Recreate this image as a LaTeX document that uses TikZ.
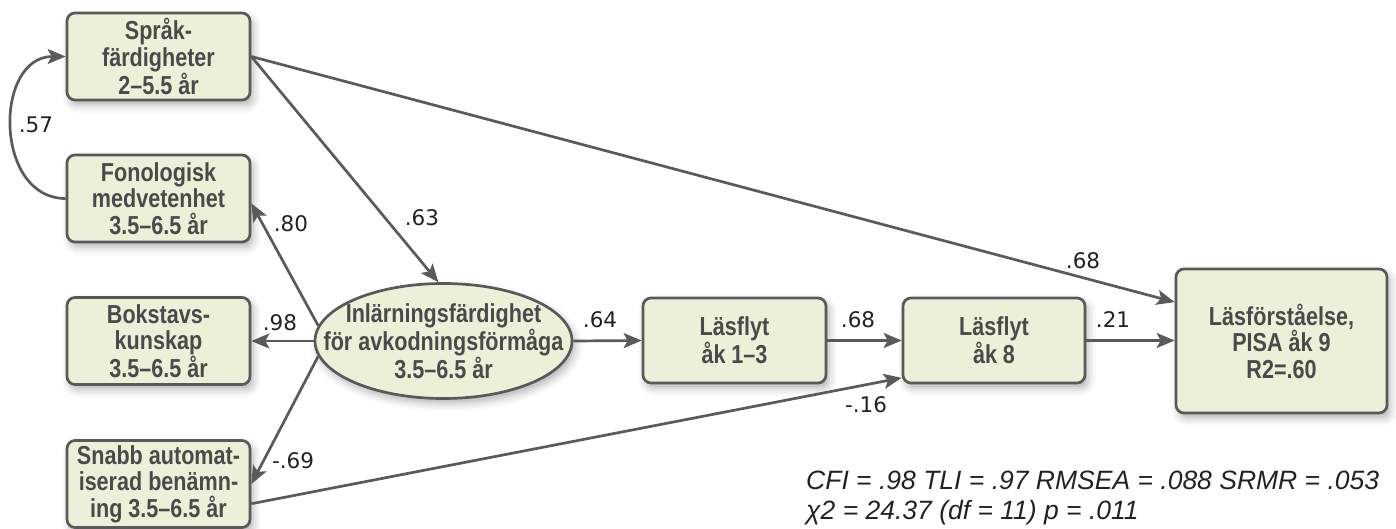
\documentclass[tikz,border=0pt]{standalone}
\usepackage{fontspec}
\setmainfont{Liberation Sans}
\newfontfamily\boxfont{Liberation Sans}[FakeStretch=0.83]
\newfontfamily\coeffont{DejaVu Sans}
\usetikzlibrary{shapes.geometric,arrows.meta,shadows.blur,calc}

\definecolor{boxfill}{HTML}{EAF1D8}
\definecolor{boxline}{HTML}{595959}
\definecolor{boxtext}{HTML}{4A4A4A}
\definecolor{arrowcol}{HTML}{5A5A5A}
\definecolor{coeftext}{HTML}{222222}

\begin{document}
\begin{tikzpicture}[x=1pt,y=-1pt,
  shadowed/.style={blur shadow={shadow xshift=3pt,shadow yshift=-5pt,
      shadow blur radius=8pt,shadow opacity=30}},
  boxtxt/.style={align=center,text=boxtext,inner sep=0pt,
      font=\boxfont\bfseries\fontsize{26}{26.5}\selectfont},
  varbox/.style={boxtxt,draw=boxline,line width=2.7pt,fill=boxfill,
      rounded corners=8pt,minimum width=183pt,minimum height=87pt,shadowed},
  latent/.style={ellipse,draw=boxline,line width=2.7pt,fill=boxfill,
      minimum width=257pt,minimum height=115pt,inner sep=0pt,shadowed},
  coef/.style={font=\coeffont\fontsize{21.5}{21.5}\selectfont,text=coeftext,inner sep=0pt},
  path/.style={draw=arrowcol,line width=2.7pt,
      -{Stealth[length=18pt,width=15pt,inset=4pt]}},
  fitinfo/.style={font=\itshape\fontsize{26.5}{30}\selectfont,text=coeftext,
      align=left,inner sep=0pt}
]
\useasboundingbox (0,0) rectangle (1396,529);

% observed and latent variables
\node[varbox] (spr)   at (158.5,56.5)  {Språk-\\färdigheter\\2–5.5 år};
\node[varbox] (fon)   at (158.5,198.5) {Fonologisk\\medvetenhet\\3.5–6.5 år};
\node[varbox] (bok)   at (158.5,341)   {Bokstavs-\\kunskap\\3.5–6.5 år};
\node[varbox] (snabb) at (158.5,484)   {Snabb automat-\\iserad benämn-\\ing 3.5–6.5 år};
\node[latent] (ell)   at (443.5,341)   {};
\node[boxtxt] (elltxt) at (ell.center)
  {Inlärningsfärdighet\\för avkodningsförmåga\\3.5–6.5 år};
\node[varbox,minimum height=85pt] (l13) at (734.5,340.5) {Läsflyt\\åk 1–3};
\node[varbox,minimum width=182pt,minimum height=85pt] (ak8) at (994,340.5) {Läsflyt\\åk 8};
\node[varbox,minimum width=211pt,minimum height=144pt] (lf) at (1281.5,341)
  {Läsförståelse,\\PISA åk 9\\R2=.60};

% paths
\draw[path] (spr.east) -- (lf.160);
\draw[path] (spr.east) -- (ell.95);
\draw[path] (fon.west) to[out=180,in=180,looseness=1.3] (spr.west);
\draw[path] (ell.173) -- (fon.-3);
\draw[path] (ell.west) -- (bok.east);
\draw[path] (ell.187) -- (snabb.east);
\draw[path] (ell.east) -- (l13.west);
\draw[path] (l13.east) -- (ak8.west);
\draw[path] (ak8.east) -- (ak8.east -| lf.west);
\draw[path] (snabb.-12) -- (ak8.202);

% path coefficients
\node[coef] (c57) at (36,125)   {.57};
\node[coef] (c63) at (422,218)  {.63};
\node[coef] (c80) at (291,224)  {.80};
\node[coef] (c98) at (280,323)  {.98};
\node[coef] (c69) at (293,461)  {-.69};
\node[coef] (c64) at (600,320)  {.64};
\node[coef] (c68a) at (858,320) {.68};
\node[coef] (c21) at (1113,320) {.21};
\node[coef] (c68b) at (1083,261) {.68};
\node[coef] (c16) at (866,405)  {-.16};

% model fit
\node[fitinfo,anchor=west] (fit) at (806,498)
  {CFI = .98 TLI = .97 RMSEA = .088 SRMR = .053\\χ2 = 24.37 (df = 11) p = .011};
\end{tikzpicture}
\end{document}
